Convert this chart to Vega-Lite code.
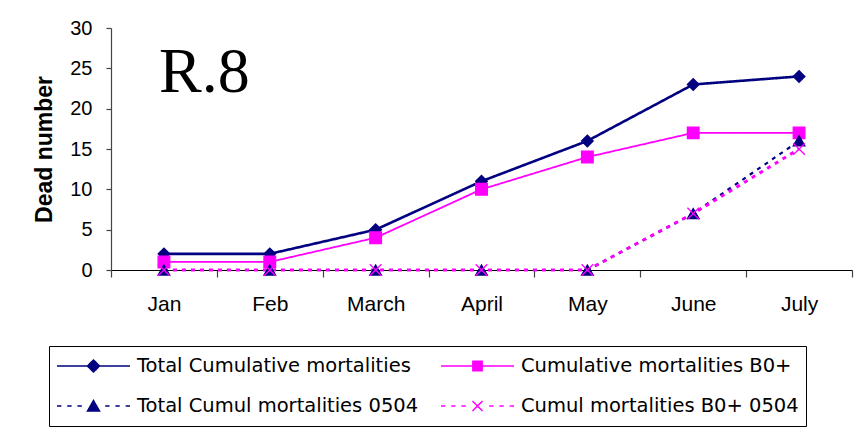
{
  "$schema": "https://vega.github.io/schema/vega-lite/v6.json",
  "width": 741,
  "height": 242,
  "autosize": {"type": "none"},
  "padding": {"left": 111, "top": 28, "right": 7, "bottom": 159},
  "background": "white",
  "title": {
    "text": "R.8",
    "font": "Liberation Serif",
    "fontSize": 64,
    "fontWeight": "normal",
    "color": "black",
    "anchor": "start",
    "frame": "group",
    "orient": "top",
    "baseline": "alphabetic",
    "offset": 0,
    "dx": 48,
    "dy": 138
  },
  "data": {
    "values": [
      {"month": "Jan", "series": "Total Cumulative mortalities", "value": 2},
      {"month": "Feb", "series": "Total Cumulative mortalities", "value": 2},
      {"month": "March", "series": "Total Cumulative mortalities", "value": 5},
      {"month": "April", "series": "Total Cumulative mortalities", "value": 11},
      {"month": "May", "series": "Total Cumulative mortalities", "value": 16},
      {"month": "June", "series": "Total Cumulative mortalities", "value": 23},
      {"month": "July", "series": "Total Cumulative mortalities", "value": 24},
      {"month": "Jan", "series": "Cumulative mortalities B0+", "value": 1},
      {"month": "Feb", "series": "Cumulative mortalities B0+", "value": 1},
      {"month": "March", "series": "Cumulative mortalities B0+", "value": 4},
      {"month": "April", "series": "Cumulative mortalities B0+", "value": 10},
      {"month": "May", "series": "Cumulative mortalities B0+", "value": 14},
      {"month": "June", "series": "Cumulative mortalities B0+", "value": 17},
      {"month": "July", "series": "Cumulative mortalities B0+", "value": 17},
      {"month": "Jan", "series": "Total Cumul mortalities 0504", "value": 0},
      {"month": "Feb", "series": "Total Cumul mortalities 0504", "value": 0},
      {"month": "March", "series": "Total Cumul mortalities 0504", "value": 0},
      {"month": "April", "series": "Total Cumul mortalities 0504", "value": 0},
      {"month": "May", "series": "Total Cumul mortalities 0504", "value": 0},
      {"month": "June", "series": "Total Cumul mortalities 0504", "value": 7},
      {"month": "July", "series": "Total Cumul mortalities 0504", "value": 16},
      {"month": "Jan", "series": "Cumul mortalities B0+ 0504", "value": 0},
      {"month": "Feb", "series": "Cumul mortalities B0+ 0504", "value": 0},
      {"month": "March", "series": "Cumul mortalities B0+ 0504", "value": 0},
      {"month": "April", "series": "Cumul mortalities B0+ 0504", "value": 0},
      {"month": "May", "series": "Cumul mortalities B0+ 0504", "value": 0},
      {"month": "June", "series": "Cumul mortalities B0+ 0504", "value": 7},
      {"month": "July", "series": "Cumul mortalities B0+ 0504", "value": 15}
    ]
  },
  "encoding": {
    "x": {
      "field": "month",
      "type": "nominal",
      "sort": ["Jan", "Feb", "March", "April", "May", "June", "July"],
      "scale": {"type": "band", "paddingInner": 0, "paddingOuter": 0},
      "axis": {
        "title": null,
        "labelAngle": 0,
        "tickBand": "extent",
        "tickSize": 7,
        "labelPadding": 16,
        "labelFont": "Liberation Sans",
        "labelFontSize": 21,
        "labelColor": "black",
        "domainColor": "black",
        "domainWidth": 1.2,
        "tickColor": "#444",
        "tickWidth": 1.2,
        "grid": false
      }
    },
    "y": {
      "field": "value",
      "type": "quantitative",
      "scale": {"domain": [0, 30], "nice": false},
      "axis": {
        "values": [0, 5, 10, 15, 20, 25, 30],
        "title": "Dead number",
        "titleFont": "Liberation Sans",
        "titleFontSize": 23,
        "titleFontWeight": "bold",
        "titleColor": "black",
        "titleAngle": -90,
        "titleAlign": "center",
        "titleBaseline": "middle",
        "titleX": -67,
        "titleY": 121,
        "tickSize": 5,
        "labelPadding": 14,
        "labelFont": "Liberation Sans",
        "labelFontSize": 20,
        "labelColor": "black",
        "domainColor": "#444",
        "domainWidth": 1.2,
        "tickColor": "#444",
        "tickWidth": 1.2,
        "grid": false
      }
    }
  },
  "layer": [
    {
      "mark": {"type": "line"},
      "encoding": {
        "color": {
          "field": "series",
          "type": "nominal",
          "scale": {
            "domain": ["Total Cumulative mortalities", "Cumulative mortalities B0+", "Total Cumul mortalities 0504", "Cumul mortalities B0+ 0504"],
            "range": ["#000080", "#ff00ff", "#000080", "#ff00ff"]
          },
          "legend": {
            "title": null,
            "orient": "none",
            "legendX": -62,
            "legendY": 318,
            "columns": 2,
            "direction": "horizontal",
            "padding": 7,
            "columnPadding": 21,
            "rowPadding": 14,
            "clipHeight": 26,
            "strokeColor": "black",
            "symbolSize": 5329,
            "symbolOffset": 0,
            "symbolStrokeWidth": 1.5,
            "labelOffset": 6,
            "labelFont": "DejaVu Sans",
            "labelFontSize": 19.5,
            "labelColor": "black",
            "labelLimit": 400,
            "encode": {
              "symbols": {
                "update": {
                  "shape": {"signal": "datum.value == 'Total Cumulative mortalities' ? 'M-1,0H1M0,-0.165L0.165,0L0,0.165L-0.165,0Z' : datum.value == 'Cumulative mortalities B0+' ? 'M-1,0H1M-0.127,-0.127H0.127V0.127H-0.127Z' : datum.value == 'Total Cumul mortalities 0504' ? 'M-1,0H-0.88M-0.72,0H-0.6M-0.44,0H-0.32M0.32,0H0.44M0.6,0H0.72M0.88,0H1M0,-0.15L0.165,0.14L-0.165,0.14Z' : 'M-1,0H-0.88M-0.72,0H-0.6M-0.44,0H-0.32M0.32,0H0.44M0.6,0H0.72M0.88,0H1M-0.137,-0.137L0.137,0.137M0.137,-0.137L-0.137,0.137'"},
                  "fill": {"signal": "indexof(datum.value, 'B0+') >= 0 ? '#ff00ff' : '#000080'"},
                  "stroke": {"signal": "indexof(datum.value, 'B0+') >= 0 ? '#ff00ff' : '#000080'"},
                  "strokeWidth": {"value": 1.5},
                  "strokeDash": {"value": [1, 0]},
                  "opacity": {"value": 1}
                }
              }
            }
          }
        },
        "strokeDash": {
          "field": "series",
          "type": "nominal",
          "scale": {
            "domain": ["Total Cumulative mortalities", "Total Cumul mortalities 0504", "Cumulative mortalities B0+", "Cumul mortalities B0+ 0504"],
            "range": [[1, 0], [4, 5], [1, 0], [4, 5]]
          },
          "legend": null
        },
        "strokeWidth": {
          "field": "series",
          "type": "nominal",
          "scale": {
            "domain": ["Cumul mortalities B0+ 0504", "Total Cumulative mortalities", "Total Cumul mortalities 0504", "Cumulative mortalities B0+"],
            "range": [3, 1.8, 3, 1.8]
          },
          "legend": null
        }
      }
    },
    {
      "mark": {"type": "point", "filled": true, "size": 135, "strokeWidth": 1.3, "opacity": 1},
      "encoding": {
        "shape": {
          "field": "series",
          "type": "nominal",
          "scale": {
            "domain": ["Cumul mortalities B0+ 0504", "Total Cumul mortalities 0504", "Cumulative mortalities B0+", "Total Cumulative mortalities"],
            "range": ["M-1,-1L1,1M1,-1L-1,1", "triangle-up", "square", "diamond"]
          },
          "legend": null
        },
        "fill": {
          "field": "series",
          "type": "nominal",
          "scale": {
            "domain": ["Cumulative mortalities B0+", "Total Cumulative mortalities", "Cumul mortalities B0+ 0504", "Total Cumul mortalities 0504"],
            "range": ["#ff00ff", "#000080", "#ff00ff", "#000080"]
          },
          "legend": null
        },
        "stroke": {
          "field": "series",
          "type": "nominal",
          "scale": {
            "domain": ["Total Cumul mortalities 0504", "Cumul mortalities B0+ 0504", "Total Cumulative mortalities", "Cumulative mortalities B0+"],
            "range": ["#000080", "#ff00ff", "#000080", "#ff00ff"]
          },
          "legend": null
        }
      }
    }
  ],
  "config": {
    "view": {"stroke": null}
  }
}
